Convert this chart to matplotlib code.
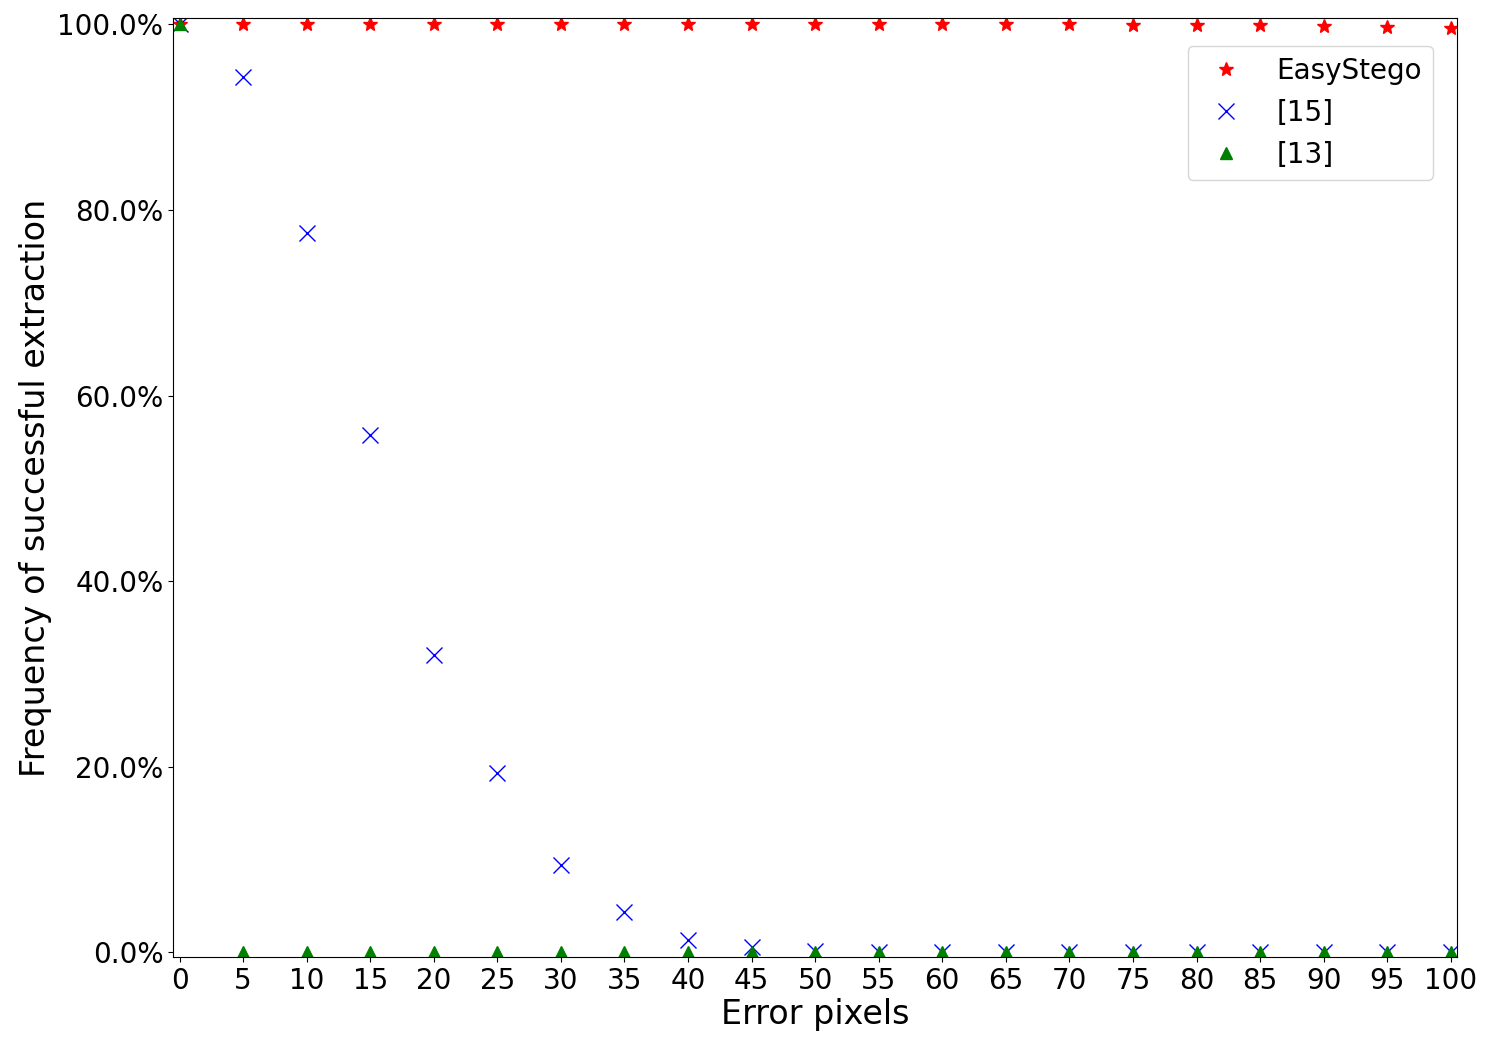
import matplotlib
matplotlib.use("Agg")
import matplotlib.pyplot as plt
from matplotlib.ticker import PercentFormatter

#Data
error_pixels = list(range(0, 101, 5))
easystego = [100, 100, 100, 100, 100, 100, 100, 100, 100, 100, 100,
             100, 100, 100, 100, 99.9, 99.9, 99.9, 99.8, 99.7, 99.6]
ref15 = [100, 94.3, 77.5, 55.7, 32.1, 19.3, 9.4, 4.4, 1.3, 0.6, 0.2,
         0.1, 0, 0, 0, 0, 0, 0, 0, 0, 0]
ref13 = [100] + [0] * 20

fig = plt.figure(figsize=(14.93, 10.46), dpi=100)
ax = fig.add_axes([0.116, 0.085, 0.86, 0.898])

ax.plot(error_pixels, easystego, "*", color="red", markersize=10, linestyle="none", label="EasyStego")
ax.plot(error_pixels, ref15, "x", color="blue", markersize=11, linestyle="none", label="[15]")
ax.plot(error_pixels, ref13, "^", color="green", markersize=9, linestyle="none", label="[13]")

ax.set_xlim(-0.5, 100.5)
ax.set_ylim(-0.5, 100.7)
ax.set_xticks(error_pixels)
ax.set_yticks([0, 20, 40, 60, 80, 100])
ax.yaxis.set_major_formatter(PercentFormatter(decimals=1))
ax.tick_params(axis="both", labelsize=20)
ax.set_xlabel("Error pixels", fontsize=24, labelpad=2)
ax.set_ylabel("Frequency of successful extraction", fontsize=24)
ax.legend(loc="upper right", fontsize=20, bbox_to_anchor=(0.992, 0.985))

fig.savefig("out.png")
